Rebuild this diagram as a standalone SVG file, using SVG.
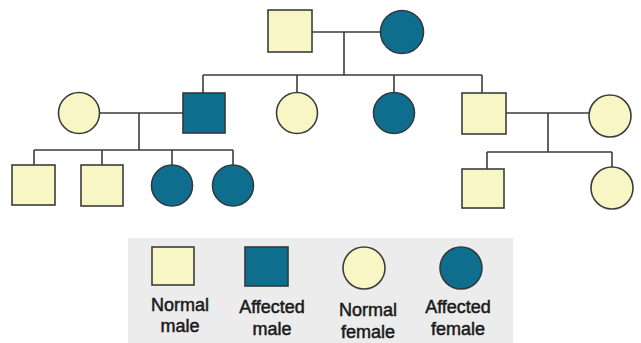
<svg xmlns="http://www.w3.org/2000/svg" width="641" height="343" viewBox="0 0 641 343">
<style>
.n{fill:#f7f6c4;stroke:#3d3d3a;stroke-width:1.6}
.a{fill:#0f6e8d;stroke:#2f3b40;stroke-width:1.6}
.ln{fill:none;stroke:#3d3d3d;stroke-width:1.6}
.t{font-family:"Liberation Sans",Arial,sans-serif;font-size:18px;fill:#1a1a1a;stroke:#1a1a1a;stroke-width:0.5;text-anchor:middle}
</style>
<rect width="641" height="343" fill="#ffffff"/>
<g id="connectors" class="ln">
<path d="M312 32H380M344 32V75M203 75H482M203 75V93M297 75V93M394 75V93M482 75V93"/>
<path d="M100 113H183M139 113V150M34 150H233M34 150V165M102 150V165M172 150V165M233 150V165"/>
<path d="M506 113H589M548 113V152M487 152H612M487 152V169M612 152V167"/>
</g>
<g id="gen1-male"><rect class="n" x="268" y="10" width="44" height="42"/></g>
<g id="gen1-female"><circle class="a" cx="402" cy="32" r="21.5"/></g>
<g id="gen2-spouse-left"><circle class="n" cx="79" cy="113" r="20.5"/></g>
<g id="gen2-male-affected"><rect class="a" x="183" y="93" width="42" height="40"/></g>
<g id="gen2-female-normal"><circle class="n" cx="297" cy="113" r="20.5"/></g>
<g id="gen2-female-affected"><circle class="a" cx="394" cy="113" r="20.5"/></g>
<g id="gen2-male-normal"><rect class="n" x="462" y="93" width="44" height="41"/></g>
<g id="gen2-spouse-right"><circle class="n" cx="610" cy="116" r="21"/></g>
<g id="gen3-male1"><rect class="n" x="12" y="165" width="43" height="40"/></g>
<g id="gen3-male2"><rect class="n" x="81" y="165" width="42" height="41"/></g>
<g id="gen3-female1"><circle class="a" cx="172" cy="185.5" r="20.5"/></g>
<g id="gen3-female2"><circle class="a" cx="233" cy="185.5" r="20.5"/></g>
<g id="gen3-male3"><rect class="n" x="462" y="169" width="42" height="39"/></g>
<g id="gen3-female3"><circle class="n" cx="612" cy="188" r="21"/></g>
<g id="legend">
<rect x="128" y="238" width="385" height="105" fill="#ececec"/>
<rect class="n" x="152" y="247" width="42" height="38"/>
<rect class="a" x="245" y="247" width="43" height="39"/>
<circle class="n" cx="364" cy="268" r="21"/>
<circle class="a" cx="461" cy="268" r="21"/>
<text class="t" x="180" y="311">Normal</text>
<text class="t" x="180" y="332">male</text>
<text class="t" x="272" y="313">Affected</text>
<text class="t" x="272" y="335">male</text>
<text class="t" x="368" y="316">Normal</text>
<text class="t" x="368" y="338">female</text>
<text class="t" x="458" y="313">Affected</text>
<text class="t" x="458" y="335">female</text>
</g>
</svg>
